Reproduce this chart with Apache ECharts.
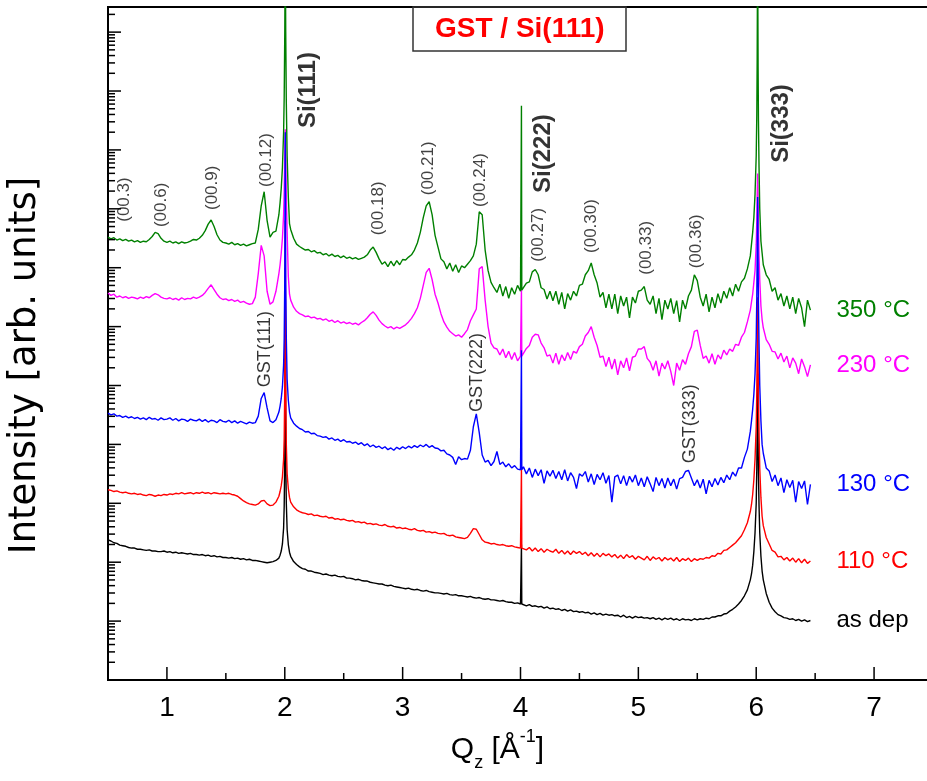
<!DOCTYPE html>
<html>
<head>
<meta charset="utf-8">
<script src="https://cdn.jsdelivr.net/npm/echarts@6/dist/echarts.min.js"></script>
<style>html,body{margin:0;padding:0;background:#fff}#chart{width:927px;height:781px}</style>
</head>
<body>
<div id="chart"></div>
<script>
// ---- Q_z sampling positions (1/Angstrom) ----
const qGrid = [
  0.5,0.525,0.55,0.575,0.6,0.625,0.65,0.675,0.7,0.725,
  0.75,0.775,0.8,0.825,0.85,0.875,0.9,0.925,0.95,0.975,
  1,1.025,1.05,1.075,1.1,1.125,1.15,1.175,1.2,1.225,
  1.25,1.275,1.3,1.325,1.35,1.375,1.4,1.425,1.45,1.475,
  1.5,1.525,1.55,1.575,1.6,1.625,1.65,1.675,1.7,1.725,
  1.75,1.775,1.8,1.825,1.85,1.875,1.9,1.925,1.95,
  1.96,1.97,1.98,1.99,1.995,2,2.004,2.008,2.013,2.02,2.03,2.04,
  2.05,2.075,2.1,2.125,2.15,2.175,2.2,2.225,2.25,2.275,
  2.3,2.325,2.35,2.375,2.4,2.425,2.45,2.475,2.5,2.525,
  2.55,2.575,2.6,2.625,2.65,2.675,2.7,2.725,2.75,2.775,
  2.8,2.825,2.85,2.875,2.9,2.925,2.95,2.975,3,3.025,
  3.05,3.075,3.1,3.125,3.15,3.175,3.2,3.225,3.25,3.275,
  3.3,3.325,3.35,3.375,3.4,3.425,3.45,3.475,3.5,3.525,
  3.55,3.575,3.6,3.625,3.65,3.675,3.7,3.725,3.75,3.775,
  3.8,3.825,3.85,3.875,3.9,3.925,3.95,3.975,4,
  4.005,4.008,4.011,
  4.025,4.05,4.075,4.1,4.125,4.15,4.175,4.2,4.225,4.25,
  4.275,4.3,4.325,4.35,4.375,4.4,4.425,4.45,4.475,4.5,
  4.525,4.55,4.575,4.6,4.625,4.65,4.675,4.7,4.725,4.75,
  4.775,4.8,4.825,4.85,4.875,4.9,4.925,4.95,4.975,5,
  5.025,5.05,5.075,5.1,5.125,5.15,5.175,5.2,5.225,5.25,
  5.275,5.3,5.325,5.35,5.375,5.4,5.425,5.45,5.475,5.5,
  5.525,5.55,5.575,5.6,5.625,5.65,5.675,5.7,5.725,5.75,
  5.775,5.8,5.825,5.85,5.875,5.9,5.925,5.95,
  5.96,5.97,5.98,5.99,6,6.005,6.008,6.012,6.016,6.019,6.024,6.03,6.04,6.05,
  6.06,6.085,6.11,6.135,6.16,6.185,6.21,6.235,6.26,6.285,6.31,6.335,6.36,6.385,6.41,6.435,6.46
];

// ---- log10(intensity, arb. units) ----
const asDepLog = [
  2.38,2.36,2.33,2.32,2.29,2.28,2.27,2.25,2.24,2.24,
  2.22,2.22,2.21,2.20,2.21,2.19,2.19,2.18,2.18,2.19,
  2.17,2.18,2.16,2.17,2.15,2.16,2.15,2.14,2.15,2.13,
  2.13,2.12,2.13,2.11,2.12,2.10,2.11,2.09,2.10,2.08,
  2.08,2.07,2.08,2.06,2.07,2.05,2.06,2.04,2.05,2.03,
  2.03,2.02,2.01,2.00,1.99,2.00,2.01,2.03,2.07,
  2.12,2.19,2.31,2.58,2.95,3.8,7.0,3.8,3.0,2.55,2.3,2.17,
  2.10,2.01,1.96,1.92,1.89,1.88,1.85,1.85,1.83,1.82,
  1.81,1.79,1.80,1.78,1.77,1.78,1.76,1.75,1.76,1.73,
  1.73,1.72,1.70,1.71,1.69,1.68,1.68,1.66,1.65,1.64,
  1.63,1.63,1.61,1.60,1.61,1.59,1.58,1.57,1.56,1.55,
  1.56,1.54,1.53,1.54,1.52,1.51,1.52,1.50,1.49,1.48,
  1.48,1.47,1.46,1.47,1.45,1.44,1.45,1.43,1.43,1.42,
  1.41,1.42,1.40,1.39,1.40,1.38,1.37,1.38,1.36,1.36,
  1.35,1.34,1.35,1.33,1.32,1.32,1.30,1.31,1.29,
  1.29,2.30,1.29,
  1.28,1.26,1.28,1.25,1.26,1.24,1.25,1.22,1.24,1.21,
  1.22,1.20,1.21,1.18,1.20,1.17,1.19,1.16,1.17,1.15,
  1.16,1.14,1.15,1.12,1.14,1.11,1.13,1.10,1.12,1.10,
  1.11,1.09,1.10,1.07,1.10,1.06,1.08,1.05,1.08,1.06,
  1.07,1.05,1.06,1.04,1.06,1.03,1.05,1.02,1.05,1.03,
  1.05,1.02,1.04,1.01,1.04,1.02,1.03,1.01,1.04,1.02,
  1.04,1.03,1.05,1.04,1.07,1.07,1.09,1.09,1.12,1.13,
  1.17,1.20,1.24,1.29,1.35,1.43,1.53,1.70,
  1.80,1.95,2.18,2.50,3.0,3.6,4.2,5.2,4.1,3.5,2.95,2.5,2.1,1.85,
  1.70,1.47,1.32,1.22,1.16,1.11,1.09,1.06,1.05,1.03,1.04,1.01,1.03,1.00,1.02,0.99,1.01
];
const t110Log = [
  3.23,3.22,3.20,3.21,3.19,3.18,3.19,3.17,3.16,3.17,
  3.15,3.16,3.14,3.13,3.15,3.14,3.12,3.14,3.13,3.15,
  3.14,3.16,3.15,3.17,3.16,3.18,3.16,3.17,3.18,3.16,
  3.18,3.17,3.19,3.17,3.18,3.16,3.18,3.17,3.16,3.17,
  3.16,3.17,3.15,3.14,3.12,3.08,3.04,3.01,2.99,2.98,
  2.97,2.99,3.04,3.05,2.99,2.96,2.97,3.02,3.12,
  3.20,3.30,3.45,3.75,4.1,5.0,7.8,5.0,4.0,3.5,3.25,3.10,
  3.02,2.94,2.89,2.86,2.84,2.83,2.81,2.82,2.79,2.80,
  2.78,2.77,2.78,2.75,2.76,2.73,2.74,2.72,2.73,2.71,
  2.70,2.71,2.68,2.69,2.67,2.68,2.65,2.66,2.64,2.65,
  2.63,2.62,2.64,2.61,2.60,2.61,2.58,2.59,2.57,2.58,
  2.56,2.55,2.57,2.54,2.53,2.54,2.51,2.52,2.50,2.51,
  2.49,2.48,2.49,2.46,2.45,2.46,2.43,2.42,2.41,2.40,
  2.42,2.49,2.57,2.56,2.47,2.38,2.34,2.33,2.31,2.32,
  2.30,2.29,2.30,2.28,2.27,2.28,2.26,2.25,2.24,
  2.24,3.60,2.24,
  2.26,2.21,2.25,2.19,2.24,2.18,2.23,2.17,2.22,2.19,
  2.17,2.22,2.15,2.20,2.14,2.19,2.13,2.19,2.15,2.18,
  2.13,2.17,2.11,2.16,2.10,2.15,2.09,2.15,2.11,2.14,
  2.09,2.13,2.07,2.12,2.06,2.13,2.08,2.11,2.05,2.10,
  2.07,2.04,2.10,2.03,2.09,2.05,2.08,2.02,2.08,2.04,
  2.07,2.02,2.08,2.01,2.06,2.03,2.07,2.01,2.06,2.03,
  2.06,2.05,2.08,2.07,2.11,2.10,2.15,2.14,2.20,2.21,
  2.25,2.29,2.33,2.39,2.45,2.55,2.67,2.86,
  2.98,3.15,3.40,3.75,4.3,4.9,5.5,6.5,5.4,4.8,4.2,3.6,3.1,2.78,
  2.62,2.42,2.31,2.20,2.17,2.09,2.10,2.04,2.08,2.02,2.07,2.00,2.06,1.99,2.05,1.98,2.02
];
const t130Log = [
  4.53,4.50,4.52,4.48,4.49,4.46,4.48,4.45,4.47,4.44,
  4.46,4.43,4.45,4.42,4.46,4.43,4.44,4.41,4.45,4.42,
  4.43,4.45,4.41,4.44,4.40,4.43,4.42,4.39,4.43,4.41,
  4.40,4.43,4.39,4.42,4.38,4.41,4.40,4.37,4.42,4.39,
  4.38,4.41,4.37,4.40,4.36,4.39,4.37,4.35,4.38,4.36,
  4.37,4.48,4.78,4.88,4.62,4.40,4.37,4.42,4.55,
  4.65,4.78,4.98,5.35,5.8,6.8,9.3,6.8,5.8,5.1,4.75,4.55,
  4.45,4.36,4.31,4.27,4.25,4.21,4.22,4.18,4.19,4.15,
  4.14,4.12,4.13,4.09,4.11,4.07,4.09,4.05,4.08,4.04,
  4.05,4.02,4.04,4.00,4.03,3.98,4.01,3.96,3.99,3.95,
  3.97,3.93,3.96,3.91,3.94,3.90,3.95,3.92,3.96,3.93,
  3.97,3.94,3.98,3.95,3.99,3.96,4.00,3.95,3.98,3.94,
  3.93,3.89,3.90,3.84,3.82,3.78,3.66,3.79,3.74,3.76,
  3.75,3.90,4.30,4.52,4.20,3.82,3.70,3.73,3.64,3.71,
  3.88,3.66,3.70,3.62,3.67,3.60,3.64,3.58,3.57,
  3.57,5.60,3.57,
  3.62,3.50,3.60,3.44,3.58,3.47,3.57,3.34,3.55,3.46,
  3.56,3.42,3.54,3.40,3.57,3.38,3.52,3.44,3.25,3.50,
  3.46,3.54,3.36,3.50,3.32,3.49,3.40,3.52,3.34,3.47,
  3.02,3.45,3.48,3.33,3.47,3.30,3.46,3.36,3.48,3.30,
  3.43,3.28,3.45,3.33,3.20,3.44,3.30,3.42,3.26,3.43,
  3.30,3.41,3.24,3.42,3.44,3.54,3.56,3.43,3.30,3.40,
  3.26,3.41,3.16,3.39,3.28,3.42,3.31,3.44,3.35,3.48,
  3.40,3.53,3.46,3.60,3.60,3.78,3.92,4.22,
  4.40,4.60,4.85,5.2,5.8,6.5,7.2,8.2,7.1,6.4,5.7,5.0,4.4,4.0,
  3.85,3.60,3.55,3.37,3.48,3.30,3.43,3.18,3.40,3.27,3.39,3.02,3.37,3.25,3.38,2.98,3.32
];
const t230Log = [
  6.57,6.53,6.55,6.50,6.52,6.49,6.51,6.48,6.50,6.49,
  6.47,6.50,6.48,6.51,6.49,6.53,6.56,6.54,6.50,6.48,
  6.47,6.49,6.46,6.48,6.45,6.49,6.46,6.48,6.47,6.50,
  6.48,6.50,6.53,6.58,6.65,6.71,6.63,6.55,6.49,6.46,
  6.47,6.44,6.46,6.43,6.45,6.41,6.43,6.40,6.38,6.39,
  6.50,6.90,7.38,7.20,6.60,6.38,6.42,6.60,6.90,
  7.05,7.25,7.5,7.9,8.3,8.9,9.35,8.9,8.2,7.6,6.85,6.55,
  6.45,6.33,6.26,6.22,6.20,6.17,6.18,6.15,6.16,6.13,
  6.14,6.11,6.13,6.09,6.11,6.07,6.10,6.06,6.08,6.05,
  6.07,6.04,6.06,6.03,6.07,6.10,6.15,6.21,6.25,6.19,
  6.11,6.05,6.01,5.98,6.00,5.96,5.99,5.97,6.00,6.03,
  6.08,6.14,6.22,6.32,6.48,6.70,6.92,6.99,6.80,6.55,
  6.40,6.22,6.08,5.99,5.92,5.88,5.84,5.86,5.82,5.88,
  5.95,6.10,6.20,6.30,6.98,7.02,6.45,6.00,5.72,5.64,
  5.62,5.52,5.62,5.47,5.58,5.44,5.56,5.42,5.50,
  5.50,6.65,5.50,
  5.50,5.63,5.68,5.82,5.87,5.86,5.72,5.64,5.50,5.52,
  5.38,5.55,5.36,5.52,5.42,5.56,5.44,5.58,5.55,5.66,
  5.70,5.84,5.90,6.00,5.82,5.68,5.48,5.50,5.32,5.48,
  5.28,5.45,5.18,5.42,5.30,5.47,5.25,5.48,5.50,5.62,
  5.62,5.66,5.46,5.40,5.26,5.42,5.16,5.38,5.28,5.42,
  5.24,5.00,5.38,5.26,5.44,5.36,5.54,5.66,5.92,5.94,
  5.68,5.46,5.50,5.38,5.54,5.36,5.52,5.45,5.60,5.52,
  5.62,5.58,5.70,5.68,5.82,5.90,6.08,6.28,
  6.42,6.55,6.75,6.95,7.4,7.8,8.2,8.6,8.1,7.7,7.2,6.8,6.35,6.12,
  5.98,5.78,5.70,5.58,5.57,5.45,5.55,5.40,5.50,5.30,5.47,5.38,5.20,5.45,5.32,5.15,5.35
];
const t350Log = [
  7.52,7.49,7.51,7.47,7.49,7.46,7.48,7.45,7.47,7.44,
  7.46,7.43,7.45,7.44,7.48,7.53,7.60,7.58,7.50,7.45,
  7.43,7.45,7.42,7.44,7.41,7.44,7.42,7.43,7.45,7.48,
  7.47,7.50,7.55,7.63,7.74,7.81,7.70,7.56,7.47,7.43,
  7.42,7.40,7.43,7.39,7.41,7.38,7.40,7.37,7.39,7.41,
  7.42,7.65,8.05,8.29,7.80,7.52,7.60,7.62,7.90,
  8.1,8.35,8.7,9.3,9.9,11.0,12.5,11.0,9.8,8.9,8.2,7.75,
  7.65,7.50,7.40,7.36,7.33,7.30,7.31,7.27,7.29,7.25,
  7.26,7.22,7.24,7.20,7.23,7.19,7.21,7.17,7.20,7.16,
  7.18,7.15,7.17,7.14,7.16,7.18,7.22,7.30,7.35,7.26,
  7.15,7.06,7.10,7.02,7.11,7.03,7.12,7.05,7.14,7.13,
  7.18,7.22,7.30,7.42,7.60,7.85,8.05,8.12,7.90,7.55,
  7.35,7.15,7.10,6.98,7.08,6.94,7.05,6.92,7.03,7.00,
  7.06,7.12,7.20,7.40,7.95,7.90,7.30,6.95,6.75,6.66,
  6.58,6.72,6.52,6.68,6.48,6.66,6.55,6.70,6.60,
  6.62,9.75,6.62,
  6.62,6.74,6.76,6.93,6.97,6.88,6.66,6.63,6.47,6.60,
  6.44,6.60,6.38,6.58,6.30,6.56,6.45,6.60,6.52,6.70,
  6.72,6.88,6.95,7.08,6.88,6.74,6.50,6.58,6.32,6.55,
  6.30,6.55,6.22,6.52,6.35,6.50,6.15,6.50,6.40,6.60,
  6.62,6.68,6.45,6.38,6.52,6.22,6.48,6.12,6.45,6.30,
  6.48,6.22,6.44,6.08,6.45,6.30,6.52,6.62,6.88,6.78,
  6.50,6.35,6.55,6.25,6.50,6.32,6.56,6.40,6.60,6.48,
  6.66,6.52,6.72,6.60,6.76,6.82,6.98,7.20,
  7.40,7.60,7.85,8.25,8.9,9.6,10.5,12.5,10.4,9.5,8.7,8.0,7.45,7.25,
  7.05,6.88,6.80,6.60,6.66,6.45,6.56,6.35,6.52,6.30,6.50,6.22,6.48,6.32,6.00,6.45,6.28
];

// series in drawing order (later = on top)
const seriesNames  = ['as dep', '110 °C', '230 °C', '130 °C', '350 °C'];
const seriesColors = ['#000000', '#ff0000', '#ff00ff', '#0000ff', '#008000'];
const seriesLogs   = [asDepLog, t110Log, t230Log, t130Log, t350Log];

// axis ranges and ticks
const xMin = 0.5, xMax = 7.5;
const yMin = 1, yMax = 2.67e11;
const xMajorTicks = [1, 2, 3, 4, 5, 6, 7];
const xMinorTicks = [1.5, 2.5, 3.5, 4.5, 5.5, 6.5];
const yDecades = [1, 1e1, 1e2, 1e3, 1e4, 1e5, 1e6, 1e7, 1e8, 1e9, 1e10, 1e11];
const yMinorMultipliers = [2, 3, 4, 5, 6, 7, 8, 9];

// peak annotations: label, Q position, log10 intensity at the label's lower end
const millerText = ['(00.3)', '(00.6)', '(00.9)', '(00.12)', '(00.18)', '(00.21)', '(00.24)', '(00.27)', '(00.30)', '(00.33)', '(00.36)'];
const millerQ    = [0.636, 0.95, 1.383, 1.84, 2.79, 3.216, 3.657, 4.154, 4.60, 5.07, 5.495];
const millerLog  = [7.78, 7.69, 7.98, 8.37, 7.55, 8.23, 8.03, 7.10, 7.25, 6.88, 6.99];
const siText = ['Si(111)', 'Si(222)', 'Si(333)'];
const siQ    = [2.197, 4.197, 6.21];
const siLog  = [9.37, 8.27, 8.78];
const gstText = ['GST(111)', 'GST(222)', 'GST(333)'];
const gstQ    = [1.832, 3.63, 5.44];
const gstLog  = [4.97, 4.55, 3.68];

const FONT = 'Liberation Sans, Arial, Helvetica, sans-serif';

function toPairs(logs) {
  const n = Math.min(qGrid.length, logs.length);
  const out = [];
  for (let i = 0; i < n; i++) out.push([qGrid[i], Math.pow(10, logs[i])]);
  return out;
}
function annot(texts, qs, logs) {
  return texts.map((t, i) => ({ name: t, value: [qs[i], Math.pow(10, logs[i])] }));
}

const tickData = [];
xMajorTicks.forEach(v => tickData.push([v, yMin, 0]));
xMinorTicks.forEach(v => tickData.push([v, yMin, 1]));
yDecades.forEach(d => {
  tickData.push([xMin, d, 2]);
  yMinorMultipliers.forEach(m => { if (m * d <= yMax) tickData.push([xMin, m * d, 3]); });
});

const lineSeries = seriesNames.map((name, i) => ({
  name: name,
  type: 'line',
  data: toPairs(seriesLogs[i]),
  showSymbol: false,
  symbol: 'none',
  lineStyle: { color: seriesColors[i], width: 1.4 },
  itemStyle: { color: seriesColors[i] },
  emphasis: { disabled: true },
  endLabel: {
    show: true, formatter: '{a}', color: seriesColors[i],
    fontSize: 24, fontFamily: FONT, distance: 26
  }
}));

function labelSeries(texts, qs, logs, style) {
  return {
    type: 'scatter',
    data: annot(texts, qs, logs),
    symbolSize: 1,
    itemStyle: { color: 'rgba(0,0,0,0)' },
    silent: true,
    label: Object.assign({
      show: true, formatter: '{b}', rotate: 90, position: 'inside',
      align: 'left', verticalAlign: 'middle', fontFamily: FONT
    }, style)
  };
}

const chart = echarts.init(document.getElementById('chart'), null, { renderer: 'canvas' });
chart.setOption({
  animation: false,
  backgroundColor: '#ffffff',
  textStyle: { fontFamily: FONT },
  title: {
    text: 'GST / Si(111)',
    left: 413, top: 7,
    padding: [8, 22, 8, 22],
    borderColor: '#333', borderWidth: 1.5,
    textStyle: { fontSize: 28, fontWeight: 'bold', color: '#ff0000', fontFamily: FONT }
  },
  grid: {
    left: 108, top: 7, right: -6, bottom: 101,
    show: true, borderColor: '#000', borderWidth: 2, backgroundColor: 'transparent',
    containLabel: false, outerBoundsMode: 'none'
  },
  xAxis: {
    type: 'value', min: xMin, max: xMax, interval: 0.5,
    axisLine: { show: true, lineStyle: { color: '#000', width: 2 } },
    axisTick: { show: false },
    splitLine: { show: false },
    axisLabel: {
      margin: 14, fontSize: 28, color: '#000', fontFamily: FONT,
      formatter: v => (Math.abs(v - Math.round(v)) < 1e-9 ? String(Math.round(v)) : '')
    },
    name: '{q|Q}{sub|z}{q| [Å}{sup|-1}{q|]}',
    nameLocation: 'middle', nameGap: 48,
    nameTextStyle: {
      padding: [0, 46, 0, 0],
      rich: {
        q: { fontSize: 30, color: '#000', fontFamily: FONT, lineHeight: 44 },
        sub: { fontSize: 18, color: '#000', fontFamily: FONT, verticalAlign: 'bottom', lineHeight: 18 },
        sup: { fontSize: 18, color: '#000', fontFamily: FONT, verticalAlign: 'top', lineHeight: 18 }
      }
    }
  },
  yAxis: {
    type: 'log', logBase: 10, min: yMin, max: yMax,
    axisLine: { show: true, lineStyle: { color: '#000', width: 2 } },
    axisTick: { show: false },
    axisLabel: { show: false },
    splitLine: { show: false },
    minorTick: { show: false },
    name: 'Intensity [arb. units]',
    nameLocation: 'middle', nameRotate: 90, nameGap: 64,
    nameTextStyle: { fontSize: 37, color: '#000', fontFamily: 'DejaVu Sans, sans-serif', padding: [0, 44, 0, 0] }
  },
  series: [
    {
      type: 'custom',
      name: 'ticks',
      silent: true,
      clip: false,
      data: tickData,
      renderItem: function (params, api) {
        const kind = api.value(2);
        const p = api.coord([api.value(0), api.value(1)]);
        let shape;
        if (kind === 0 || kind === 1) {
          const len = kind === 0 ? 13 : 7;
          shape = { x1: p[0], y1: p[1], x2: p[0], y2: p[1] - len };
        } else {
          const len = kind === 2 ? 13 : 7;
          shape = { x1: p[0], y1: p[1], x2: p[0] + len, y2: p[1] };
        }
        return { type: 'line', shape: shape, style: { stroke: '#000', lineWidth: 1.5 } };
      },
      z: 5
    },
    ...lineSeries,
    labelSeries(millerText, millerQ, millerLog, { fontSize: 17, color: '#111' }),
    labelSeries(siText, siQ, siLog, { fontSize: 24, fontWeight: 'bold', color: '#000' }),
    labelSeries(gstText, gstQ, gstLog, { fontSize: 18, color: '#000' })
  ]
});
</script>
</body>
</html>
